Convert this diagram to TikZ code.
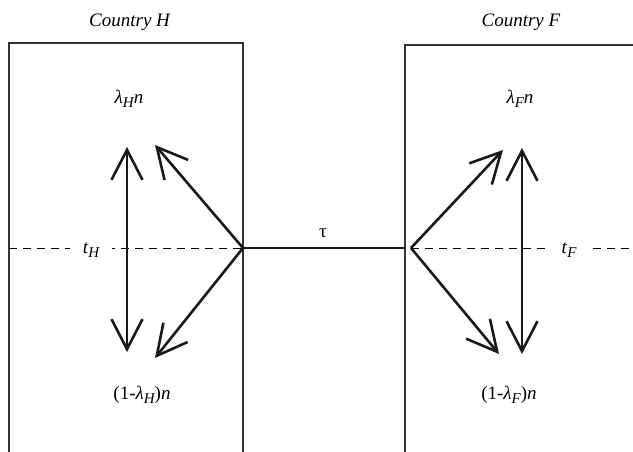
\documentclass[tikz,border=0pt]{standalone}
\usepackage{fontspec}
\setmainfont{Liberation Serif}
\usetikzlibrary{arrows.meta}
\newcommand{\lsub}[1]{\raisebox{-0.45ex}{\fontsize{15}{15}\selectfont\itshape #1}}
\tikzset{
  boxline/.style={line width=1.2pt, draw=black!80},
  dash line/.style={line width=0.9pt, dash pattern=on 8pt off 6pt},
  barb/.tip={Straight Barb[length=30pt,width=31pt,line width=2.6pt]},
  flow/.style={line width=2.6pt, draw=black!90, -barb},
  flow2/.style={line width=2.6pt, draw=black!90, barb-barb},
  lbl/.style={font=\fontsize{19}{22}\selectfont, inner sep=1pt},
  tlbl/.style={font=\fontsize{19}{22}\selectfont, fill=white, inner ysep=4pt, inner xsep=13pt}
}
\begin{document}
\begin{tikzpicture}[x=1pt,y=-1pt]
\useasboundingbox (0,0) rectangle (633,452);
% boxes
\draw[boxline] (9,452) -- (9,43) -- (243,43) -- (243,452);
\draw[boxline] (405,452) -- (405,45) -- (640,45);
% dashed tariff lines
\coordinate (hH) at (243,248);
\coordinate (hF) at (411,248);
\coordinate (lL) at (9,248);
\coordinate (rR) at (633,248);
\draw[dash line] (lL) -- (hH);
\draw[dash line] (hF) -- (rR);
\node[tlbl] (tH) at (91,250) {\textit{t}\lsub{H}};
\node[tlbl] (tF) at (569,250) {\textit{t}\lsub{F}};
% tau line
\draw[line width=2.6pt, draw=black!90] (hH) -- (405,248);
\node[lbl] (tau) at (323,233) {τ};
% titles
\node[lbl] (cH) at (130,22) {\textit{Country H}};
\node[lbl] (cF) at (521,22) {\textit{Country F}};
% labels
\node[lbl] (lH) at (129,99) {\textit{λ}\lsub{H}\textit{n}};
\node[lbl] (lF) at (520,99) {\textit{λ}\lsub{F}\textit{n}};
\node[lbl] (mH) at (142,395) {(1-\textit{λ}\lsub{H})\textit{n}};
\node[lbl] (mF) at (509,395) {(1-\textit{λ}\lsub{F})\textit{n}};
% arrow end points
\coordinate (vHt) at (127,147);
\coordinate (vHb) at (127,352);
\coordinate (dHt) at (155,145);
\coordinate (dHb) at (155,358);
\coordinate (vFt) at (522,148);
\coordinate (vFb) at (522,354);
\coordinate (dFt) at (503,150);
\coordinate (dFb) at (499,354);
% arrows
\draw[flow2] (vHt) -- (vHb);
\draw[flow2] (vFt) -- (vFb);
\draw[flow] (hH) -- (dHt);
\draw[flow] (hH) -- (dHb);
\draw[flow] (hF) -- (dFt);
\draw[flow] (hF) -- (dFb);
\end{tikzpicture}
\end{document}
